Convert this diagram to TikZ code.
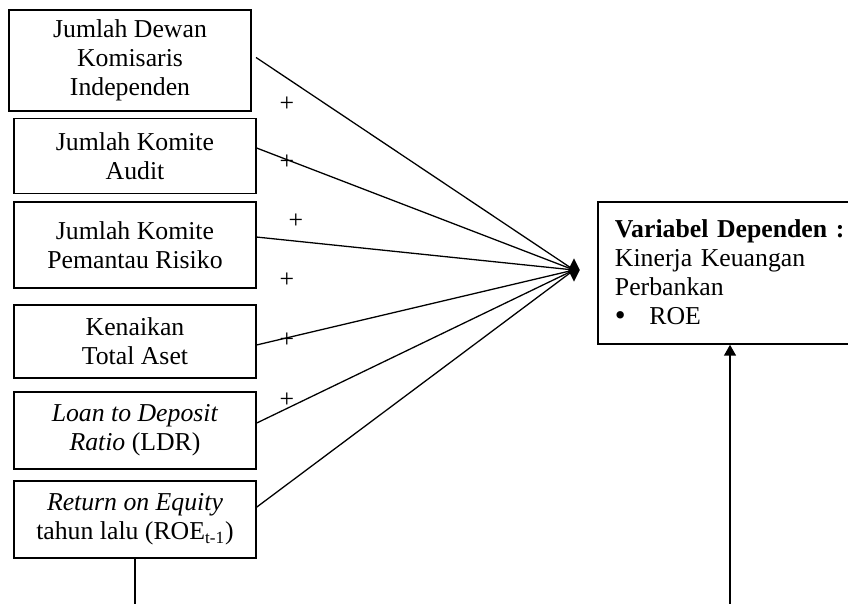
\documentclass[tikz,border=0pt]{standalone}
\usepackage{fontspec}
\setmainfont{Liberation Serif}
\usepackage{tikz}
\usetikzlibrary{arrows.meta,shapes.geometric}

\begin{document}
\begin{tikzpicture}[
  x=0.466pt, y=-0.466pt,
  every node/.style={font=\fontsize{12}{13.5}\selectfont},
  varbox/.style={draw, line width=0.7pt, inner sep=0pt, align=center, minimum width=112.8pt},
  depbox/.style={draw, line width=0.7pt, inner xsep=7.9pt, text width=110pt, align=left, minimum height=66.2pt},
  link/.style={draw, line width=0.6pt},
  hubshape/.style={diamond, fill=black, inner sep=0pt, minimum width=5.6pt, minimum height=11pt},
  plus/.style={inner sep=0pt}
  ]
\useasboundingbox (0,0) rectangle (848,603);

\node[varbox, minimum height=47pt] (b1) at (130,60.5) {Jumlah Dewan \\ Komisaris \\ Independen};
\node[varbox, minimum height=35pt] (b2) at (135,156) {Jumlah Komite \\ Audit};
\node[varbox, minimum height=40pt] (b3) at (135,245) {Jumlah Komite \\ Pemantau Risiko};
\node[varbox, minimum height=34pt] (b4) at (135,341.5) {Kenaikan \\ Total Aset};
\node[varbox, minimum height=35.9pt] (b5) at (135,430.5) {\textit{Loan to Deposit} \\ \textit{Ratio} (LDR)};
\node[varbox, minimum height=35.9pt] (b6) at (135,519.5) {\textit{Return on Equity} \\ tahun lalu (ROE\textsubscript{t-1})};

\node[depbox] (dep) at (733,273) {\textbf{Variabel Dependen :} \\ Kinerja Keuangan \\ Perbankan \\ {\Large\raisebox{-0.5pt}{\textbullet}}\hspace{11pt}ROE};

\node[hubshape] (hub) at (574,270) {};

% pengaruh ke variabel dependen
\path[link] ([xshift=2pt,yshift=1.4pt]b1.east) -- (hub.center);
\path[link] ([yshift=3.7pt]b2.east) -- (hub.center);
\path[link] ([yshift=3.7pt]b3.east) -- (hub.center);
\path[link] ([yshift=-1.6pt]b4.east) -- (hub.center);
\path[link] ([yshift=3.5pt]b5.east) -- (hub.center);
\path[link] ([yshift=5.8pt]b6.east) -- (hub.center);

\node[plus] (p1) at (287,104) {+};
\node[plus] (p2) at (287,162) {+};
\node[plus] (p3) at (296,221) {+};
\node[plus] (p4) at (287,280) {+};
\node[plus] (p5) at (287,340) {+};
\node[plus] (p6) at (287,400) {+};

\coordinate (lowL) at (132,610);
\coordinate (lowR) at (730,610);
\path[link] (b6.south) -- (b6.south |- lowL);
\path[link, -{Triangle[length=5pt,width=5.5pt]}] (lowR) -- (lowR |- dep.south);

\end{tikzpicture}
\end{document}
